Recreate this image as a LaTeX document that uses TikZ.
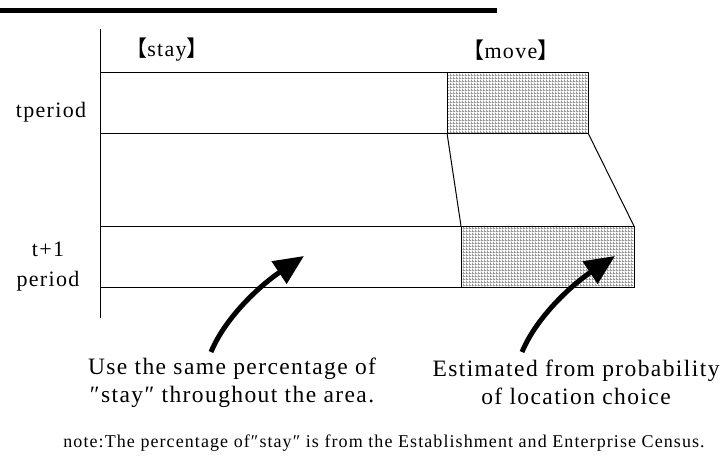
\documentclass[tikz,border=0pt]{standalone}
\usepackage{fontspec}
\setmainfont[LetterSpace=6]{Liberation Serif}
\newfontfamily\cjkfont{Noto Sans CJK SC}
\usetikzlibrary{positioning,arrows.meta,patterns}

% fine grey grid for the "move" share
\pgfdeclarepatternformonly{finegrid}{\pgfpointorigin}{\pgfqpoint{2.6pt}{2.6pt}}{\pgfqpoint{2.6pt}{2.6pt}}{%
  \pgfsetlinewidth{1.1pt}%
  \pgfpathmoveto{\pgfqpoint{0pt}{0.55pt}}\pgfpathlineto{\pgfqpoint{2.6pt}{0.55pt}}%
  \pgfpathmoveto{\pgfqpoint{0.55pt}{0pt}}\pgfpathlineto{\pgfqpoint{0.55pt}{2.6pt}}%
  \pgfusepath{stroke}}

\newcommand{\lbr}{{\cjkfont 【}}
\newcommand{\rbr}{{\cjkfont 】}}

\begin{document}
\begin{tikzpicture}[
  x=1pt, y=-1pt,
  share/.style = {rectangle, draw, line width=1pt, inner sep=0pt, outer sep=0pt,
                  minimum height=61pt, anchor=north west},
  staybox/.style = {share, fill=white},
  movebox/.style = {share, pattern=finegrid, pattern color=gray!80},
  period/.style = {font=\fontsize{22}{30}\selectfont, align=center},
  caption/.style = {font=\fontsize{23.5}{28}\selectfont, align=center},
  link/.style = {line width=1pt},
  bigarrow/.style = {-{Triangle[length=30pt,width=26pt]}, line width=5pt},
]
\useasboundingbox (0,0) rectangle (724,463);

% heading rule and axis
\coordinate (ruleL) at (0,10.5);
\coordinate (ruleR) at (497,10.5);
\draw[line width=5pt] (ruleL) -- (ruleR);
\coordinate (axisT) at (100,29);
\coordinate (axisB) at (100,318);
\draw[link] (axisT) -- (axisB);

% column heads
\node[period] (stayhead) at (167,50) {\lbr stay\rbr};
\node[period] (movehead) at (511,50) {\lbr move\rbr};

% t period
\node[staybox, minimum width=347pt] (stayT) at (100,72) {};
\node[movebox, minimum width=141pt, right=0pt of stayT] (moveT) {};
\node[period] (tlab) at (51,112) {tperiod};

% t+1 period
\node[staybox, minimum width=361pt] (stayB) at (100,226) {};
\node[movebox, minimum width=173pt, right=0pt of stayB] (moveB) {};
\node[period] (t1lab) at (48,267) {t+1\\period};

\draw[link] (moveT.south west) -- (moveB.north west);
\draw[link] (moveT.south east) -- (moveB.north east);

% explanations
\node[caption] (usetxt) at (232,383) {Use the same percentage of\\″stay″ throughout the area.};
\node[caption] (esttxt) at (576,382) {Estimated from probability\\of location choice};

\coordinate (stayTail) at (211,352);
\coordinate (stayTip) at (304,256);
\coordinate (moveTail) at (522,352);
\coordinate (moveTip) at (615,256);
\draw[bigarrow] (stayTail) .. controls (226,316) and (262,284) .. (stayTip);
\draw[bigarrow] (moveTail) .. controls (537,316) and (573,284) .. (moveTip);

\node[font=\fontsize{18}{22}\selectfont] (note) at (384,443)
  {note:The percentage of″stay″ is from the Establishment and Enterprise Census.};
\end{tikzpicture}
\end{document}
